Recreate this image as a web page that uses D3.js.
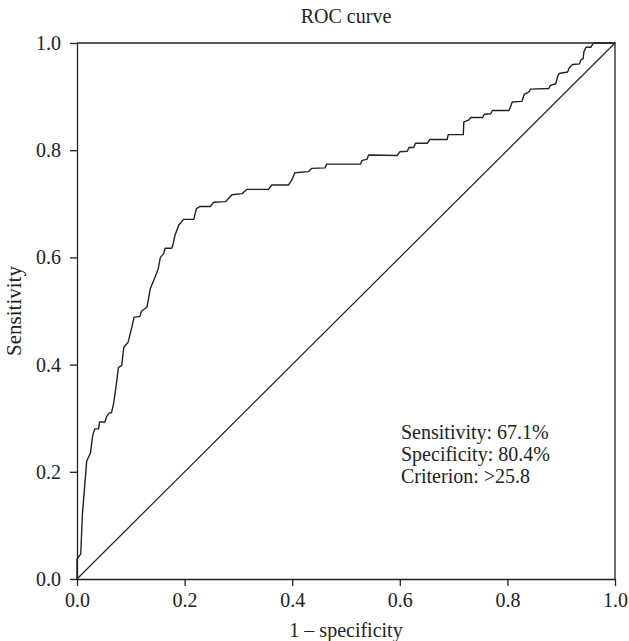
<!DOCTYPE html>
<html>
<head>
<meta charset="utf-8">
<script src="https://cdn.jsdelivr.net/npm/d3@7"></script>
<style>
  body { margin: 0; background: #fff; }
  text { font-family: "Liberation Serif", "Times New Roman", serif; fill: #222; }
</style>
</head>
<body>
<div id="container"></div>
<script>
/* CONSTANTS AND GLOBALS */
const width = 629;
const height = 641;
const margin = { top: 43, right: 14, bottom: 62, left: 77 };

// ROC curve points (1 - specificity, sensitivity)
const fpr = [0, 0, 0.007, 0.01, 0.018, 0.025, 0.029, 0.033, 0.04, 0.042, 0.052, 0.055, 0.06, 0.064,
  0.068, 0.071, 0.074, 0.077, 0.083, 0.087, 0.095, 0.102, 0.106, 0.117, 0.12, 0.13, 0.133, 0.136,
  0.145, 0.151, 0.155, 0.161, 0.164, 0.176, 0.179, 0.182, 0.189, 0.198, 0.217, 0.222, 0.229, 0.248,
  0.254, 0.276, 0.288, 0.307, 0.316, 0.356, 0.362, 0.393, 0.399, 0.405, 0.43, 0.436, 0.461, 0.464,
  0.527, 0.53, 0.539, 0.542, 0.595, 0.6, 0.614, 0.617, 0.626, 0.629, 0.651, 0.656, 0.688, 0.69,
  0.718, 0.719, 0.728, 0.732, 0.754, 0.757, 0.769, 0.772, 0.803, 0.809, 0.827, 0.831, 0.84, 0.843,
  0.877, 0.88, 0.89, 0.893, 0.896, 0.912, 0.915, 0.921, 0.934, 0.937, 0.941, 0.942, 0.946, 0.955,
  0.96, 1.0];
const tpr = [0, 0.037, 0.047, 0.12, 0.22, 0.235, 0.267, 0.28, 0.28, 0.293, 0.293, 0.303, 0.31, 0.31,
  0.327, 0.348, 0.37, 0.395, 0.398, 0.432, 0.442, 0.47, 0.488, 0.49, 0.5, 0.507, 0.523, 0.541,
  0.563, 0.579, 0.6, 0.607, 0.617, 0.617, 0.626, 0.641, 0.66, 0.671, 0.671, 0.691, 0.695, 0.695,
  0.703, 0.704, 0.717, 0.719, 0.727, 0.727, 0.735, 0.735, 0.744, 0.758, 0.76, 0.766, 0.767, 0.774,
  0.774, 0.781, 0.783, 0.791, 0.79, 0.797, 0.798, 0.805, 0.805, 0.813, 0.813, 0.82, 0.82, 0.829,
  0.829, 0.853, 0.856, 0.861, 0.861, 0.867, 0.868, 0.874, 0.874, 0.89, 0.891, 0.904, 0.909, 0.914,
  0.915, 0.921, 0.924, 0.936, 0.943, 0.946, 0.954, 0.96, 0.961, 0.969, 0.971, 0.983, 0.992, 0.992,
  1.0, 1.0];

const tickValues = [0, 0.2, 0.4, 0.6, 0.8, 1.0];
const noteLines = ["Sensitivity: 67.1%", "Specificity: 80.4%", "Criterion: >25.8"];

const rocData = fpr.map((x, i) => ({ x: x, y: tpr[i] }));

const svg = d3.select("#container")
  .append("svg")
  .attr("width", width)
  .attr("height", height);

/* SCALES */
const xScale = d3.scaleLinear()
  .domain([0, 1])
  .range([margin.left, width - margin.right]);

const yScale = d3.scaleLinear()
  .domain([0, 1])
  .range([height - margin.bottom, margin.top]);

/* AXES */
svg.append("g")
  .attr("class", "x-axis")
  .attr("transform", `translate(0,${height - margin.bottom})`)
  .call(d3.axisBottom(xScale).tickValues(tickValues).tickFormat(d3.format(".1f")).tickSizeInner(7).tickSizeOuter(0).tickPadding(7));

svg.append("g")
  .attr("class", "y-axis")
  .attr("transform", `translate(${margin.left},0)`)
  .call(d3.axisLeft(yScale).tickValues(tickValues).tickFormat(d3.format(".1f")).tickSizeInner(7).tickSizeOuter(0).tickPadding(9));

svg.selectAll(".x-axis path, .y-axis path, .x-axis line, .y-axis line")
  .attr("stroke", "#222")
  .attr("stroke-width", 1.3);

svg.selectAll(".x-axis text, .y-axis text")
  .style("font-size", "20px")
  .style("font-family", "Liberation Serif, serif")
  .attr("fill", "#222");

// top and right border of the frame
svg.append("path")
  .attr("d", `M${xScale(0)},${yScale(1)}H${xScale(1)}V${yScale(0)}`)
  .attr("fill", "none")
  .attr("stroke", "#222")
  .attr("stroke-width", 1.3);

// reference diagonal
svg.append("line")
  .attr("x1", xScale(0))
  .attr("y1", yScale(0))
  .attr("x2", xScale(1))
  .attr("y2", yScale(1))
  .attr("stroke", "#222")
  .attr("stroke-width", 1.2);

// ROC curve
const line = d3.line()
  .x(d => xScale(d.x))
  .y(d => yScale(d.y));

svg.append("path")
  .datum(rocData)
  .attr("d", line)
  .attr("fill", "none")
  .attr("stroke", "#222")
  .attr("stroke-width", 1.4)
  .attr("stroke-linejoin", "round");

/* TEXT */
svg.append("text")
  .attr("x", (xScale(0) + xScale(1)) / 2)
  .attr("y", 23)
  .attr("text-anchor", "middle")
  .style("font-size", "20px")
  .text("ROC curve");

svg.append("text")
  .attr("x", (xScale(0) + xScale(1)) / 2)
  .attr("y", 637)
  .attr("text-anchor", "middle")
  .style("font-size", "20px")
  .text("1 – specificity");

svg.append("text")
  .attr("transform", `translate(21,${(yScale(0) + yScale(1)) / 2}) rotate(-90)`)
  .attr("text-anchor", "middle")
  .style("font-size", "21px")
  .text("Sensitivity");

svg.append("g")
  .selectAll("text")
  .data(noteLines)
  .join("text")
  .attr("x", 401)
  .attr("y", (d, i) => 439 + i * 22)
  .style("font-size", "20px")
  .text(d => d);
</script>
</body>
</html>
